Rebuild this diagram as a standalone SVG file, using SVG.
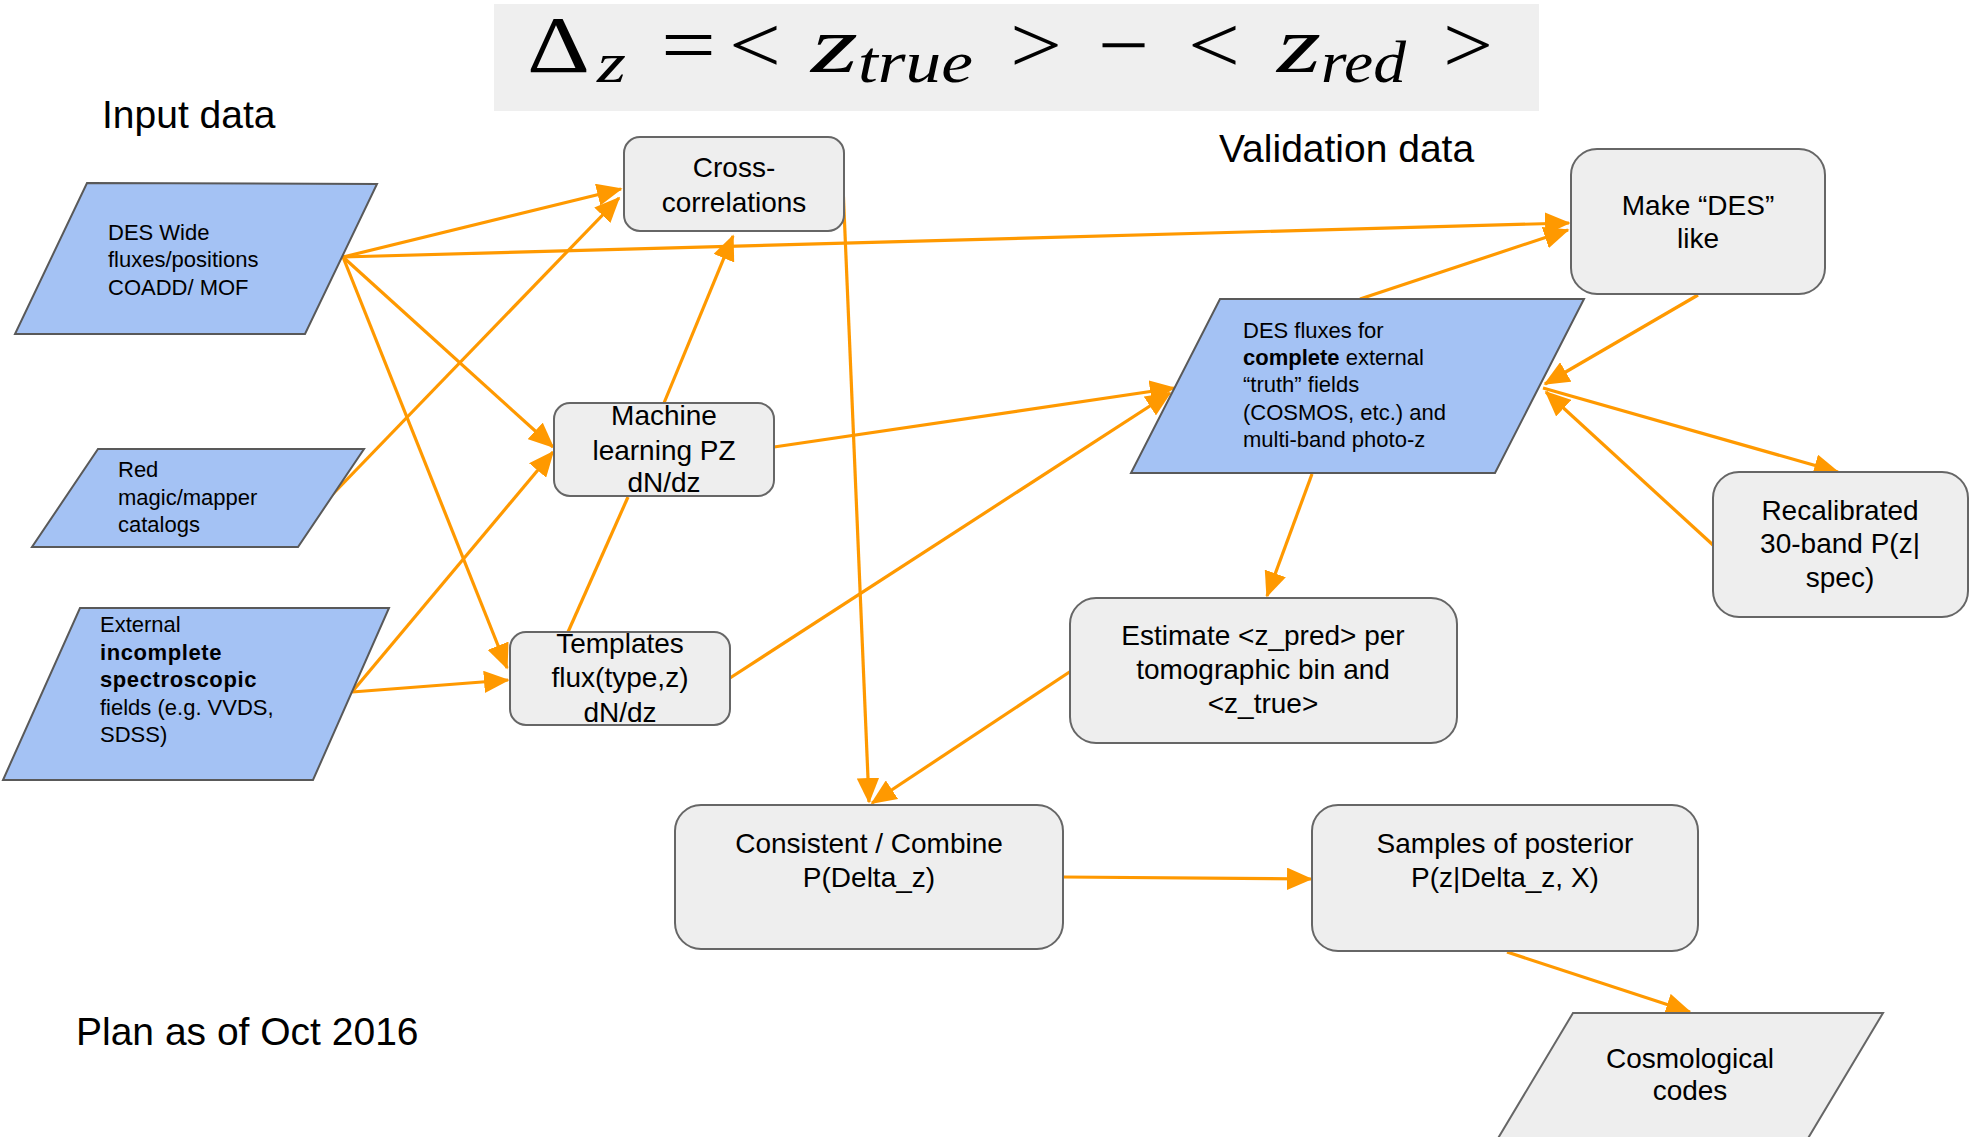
<svg xmlns="http://www.w3.org/2000/svg" width="1975" height="1137" viewBox="0 0 1975 1137">
<style>
  .t { font-family: "Liberation Sans", Arial, sans-serif; fill: #000; }
  .box { fill: #eeeeee; stroke: #666666; stroke-width: 2; }
  .para { fill: #a4c2f4; stroke: #595959; stroke-width: 2; }
  .paraG { fill: #eeeeee; stroke: #666666; stroke-width: 2; }
  .bt { font-size: 28px; text-anchor: middle; }
  .pt { font-size: 22px; }
  .title { font-size: 39px; }
  .math { font-family: "Liberation Serif", "Times New Roman", serif; fill: #000; }
  .conn line { stroke: #ff9900; stroke-width: 3.2; fill: none; }
  .arr { marker-end: url(#ah); }
</style>
<defs>
  <marker id="ah" markerWidth="8" markerHeight="7" viewBox="0 0 8 7" refX="7.5" refY="3.5" orient="auto" markerUnits="strokeWidth">
    <path d="M0,0 L8,3.5 L0,7 z" fill="#ff9900"/>
  </marker>
</defs>
<rect width="1975" height="1137" fill="#ffffff"/>

<g id="equation">
  <rect x="494" y="4" width="1045" height="107" fill="#efefef"/>
  <text class="math" x="527" y="72" font-size="80" textLength="63" lengthAdjust="spacingAndGlyphs">Δ</text>
  <text class="math" x="597" y="82" font-size="56" font-style="italic" textLength="29" lengthAdjust="spacingAndGlyphs">z</text>
  <text class="math" x="661" y="72" font-size="80" textLength="55" lengthAdjust="spacingAndGlyphs">=</text>
  <text class="math" x="729" y="72" font-size="80" textLength="52" lengthAdjust="spacingAndGlyphs">&lt;</text>
  <text class="math" x="811" y="72" font-size="80" font-style="italic" textLength="47" lengthAdjust="spacingAndGlyphs">z</text>
  <text class="math" x="858" y="82" font-size="60" font-style="italic" textLength="115" lengthAdjust="spacingAndGlyphs">true</text>
  <text class="math" x="1010" y="72" font-size="80" textLength="52" lengthAdjust="spacingAndGlyphs">&gt;</text>
  <text class="math" x="1098" y="72" font-size="80" textLength="51" lengthAdjust="spacingAndGlyphs">−</text>
  <text class="math" x="1188" y="72" font-size="80" textLength="52" lengthAdjust="spacingAndGlyphs">&lt;</text>
  <text class="math" x="1277" y="72" font-size="80" font-style="italic" textLength="44" lengthAdjust="spacingAndGlyphs">z</text>
  <text class="math" x="1321" y="82" font-size="60" font-style="italic" textLength="85" lengthAdjust="spacingAndGlyphs">red</text>
  <text class="math" x="1443" y="72" font-size="80" textLength="50" lengthAdjust="spacingAndGlyphs">&gt;</text>
</g>

<g id="labels">
  <text class="t title" x="102" y="128">Input data</text>
  <text class="t title" x="1219" y="162">Validation data</text>
  <text class="t title" x="76" y="1045">Plan as of Oct 2016</text>
</g>

<g class="conn" id="connectors">
  <line class="arr" x1="343" y1="257" x2="621" y2="189"/>
  <line class="arr" x1="343" y1="257" x2="1569" y2="223"/>
  <line class="arr" x1="343" y1="257" x2="553" y2="447"/>
  <line class="arr" x1="343" y1="257" x2="507" y2="668"/>
  <line class="arr" x1="330" y1="497" x2="619" y2="198"/>
  <line class="arr" x1="352" y1="692" x2="553" y2="452"/>
  <line class="arr" x1="352" y1="692" x2="508" y2="680"/>
  <line class="arr" x1="664" y1="403" x2="733" y2="236"/>
  <line x1="568" y1="632" x2="628" y2="497"/>
  <line class="arr" x1="774" y1="447" x2="1174" y2="388"/>
  <line class="arr" x1="730" y1="678" x2="1170" y2="393"/>
  <line class="arr" x1="843" y1="186" x2="869" y2="802"/>
  <line class="arr" x1="1071" y1="671" x2="872" y2="803"/>
  <line class="arr" x1="1360" y1="299" x2="1568" y2="230"/>
  <line class="arr" x1="1698" y1="295" x2="1545" y2="384"/>
  <line class="arr" x1="1543" y1="388" x2="1838" y2="472"/>
  <line class="arr" x1="1713" y1="545" x2="1546" y2="392"/>
  <line class="arr" x1="1312" y1="474" x2="1267" y2="596"/>
  <line class="arr" x1="1063" y1="877" x2="1311" y2="879"/>
  <line class="arr" x1="1507" y1="952" x2="1690" y2="1012"/>
</g>

<g id="des-wide">
  <polygon class="para" points="87,183 377,184 305,334 15,334"/>
  <text class="t pt" x="108" y="240">DES Wide</text>
  <text class="t pt" x="108" y="267">fluxes/positions</text>
  <text class="t pt" x="108" y="295">COADD/ MOF</text>
</g>

<g id="red-magic">
  <polygon class="para" points="98,449 364,449 298,547 32,547"/>
  <text class="t pt" x="118" y="477">Red</text>
  <text class="t pt" x="118" y="505">magic/mapper</text>
  <text class="t pt" x="118" y="532">catalogs</text>
</g>

<g id="external">
  <polygon class="para" points="80,608 389,608 313,780 3,780"/>
  <text class="t pt" x="100" y="632">External</text>
  <text class="t pt" x="100" y="660" font-weight="bold" letter-spacing="0.6">incomplete</text>
  <text class="t pt" x="100" y="687" font-weight="bold" letter-spacing="0.6">spectroscopic</text>
  <text class="t pt" x="100" y="715">fields (e.g. VVDS,</text>
  <text class="t pt" x="100" y="742">SDSS)</text>
</g>

<g id="cross-correlations">
  <rect class="box" x="624" y="137" width="220" height="94" rx="16"/>
  <text class="t bt" x="734" y="177">Cross-</text>
  <text class="t bt" x="734" y="212">correlations</text>
</g>

<g id="machine-learning">
  <rect class="box" x="554" y="403" width="220" height="93" rx="16"/>
  <text class="t bt" x="664" y="425">Machine</text>
  <text class="t bt" x="664" y="460">learning PZ</text>
  <text class="t bt" x="664" y="492">dN/dz</text>
</g>

<g id="templates">
  <rect class="box" x="510" y="632" width="220" height="93" rx="16"/>
  <text class="t bt" x="620" y="653">Templates</text>
  <text class="t bt" x="620" y="687">flux(type,z)</text>
  <text class="t bt" x="620" y="722">dN/dz</text>
</g>

<g id="des-fluxes">
  <polygon class="para" points="1220,299 1584,299 1495,473 1131,473"/>
  <text class="t pt" x="1243" y="338">DES fluxes for</text>
  <text class="t pt" x="1243" y="365"><tspan font-weight="bold">complete</tspan> external</text>
  <text class="t pt" x="1243" y="392">“truth” fields</text>
  <text class="t pt" x="1243" y="420">(COSMOS, etc.) and</text>
  <text class="t pt" x="1243" y="447">multi-band photo-z</text>
</g>

<g id="make-des-like">
  <rect class="box" x="1571" y="149" width="254" height="145" rx="26"/>
  <text class="t bt" x="1698" y="215">Make “DES”</text>
  <text class="t bt" x="1698" y="248">like</text>
</g>

<g id="recalibrated">
  <rect class="box" x="1713" y="472" width="255" height="145" rx="26"/>
  <text class="t bt" x="1840" y="520">Recalibrated</text>
  <text class="t bt" x="1840" y="553">30-band P(z|</text>
  <text class="t bt" x="1840" y="587">spec)</text>
</g>

<g id="estimate">
  <rect class="box" x="1070" y="598" width="387" height="145" rx="26"/>
  <text class="t bt" x="1263" y="645">Estimate &lt;z_pred&gt; per</text>
  <text class="t bt" x="1263" y="679">tomographic bin and</text>
  <text class="t bt" x="1263" y="713">&lt;z_true&gt;</text>
</g>

<g id="consistent-combine">
  <rect class="box" x="675" y="805" width="388" height="144" rx="26"/>
  <text class="t bt" x="869" y="853">Consistent / Combine</text>
  <text class="t bt" x="869" y="887">P(Delta_z)</text>
</g>

<g id="samples-posterior">
  <rect class="box" x="1312" y="805" width="386" height="146" rx="26"/>
  <text class="t bt" x="1505" y="853">Samples of posterior</text>
  <text class="t bt" x="1505" y="887">P(z|Delta_z, X)</text>
</g>

<g id="cosmological-codes">
  <polygon class="paraG" points="1573,1013 1883,1013 1801,1150 1491,1150"/>
  <text class="t bt" x="1690" y="1068">Cosmological</text>
  <text class="t bt" x="1690" y="1100">codes</text>
</g>
</svg>
